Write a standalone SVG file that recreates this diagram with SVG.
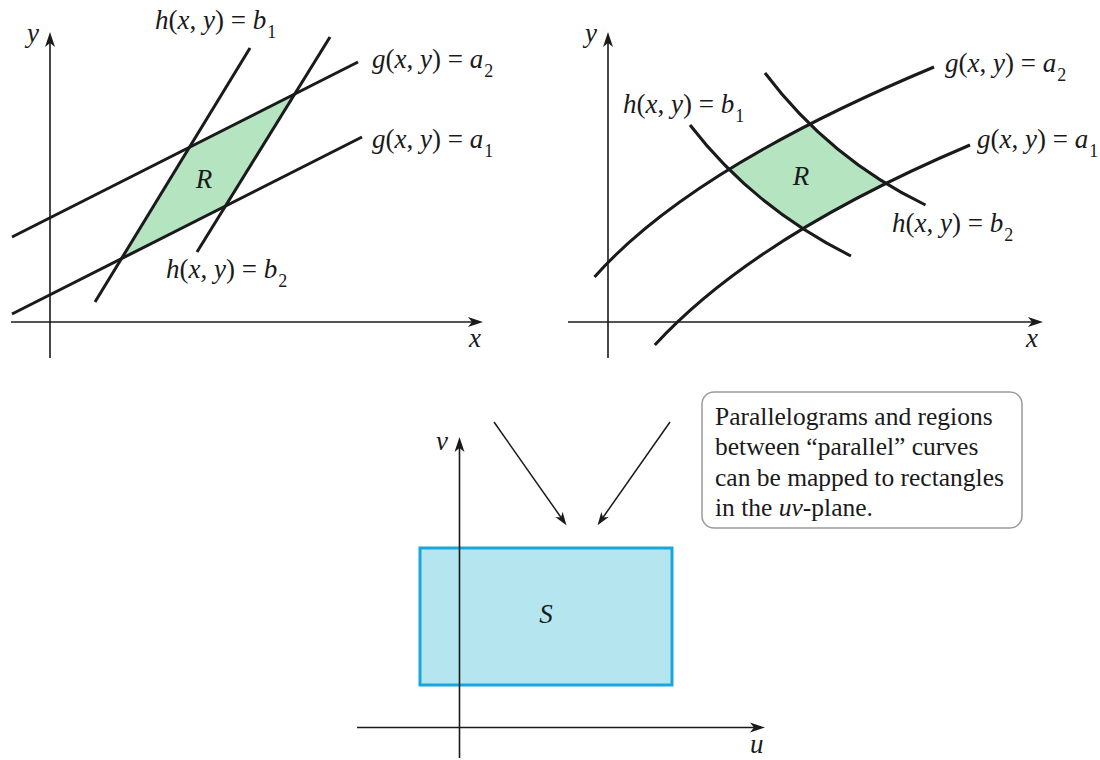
<svg xmlns="http://www.w3.org/2000/svg" width="1100" height="760" viewBox="0 0 1100 760">
<style>
.bg{fill:#ffffff}
.axis{stroke:#1a1a1a;stroke-width:1.6;fill:none}
.curve{stroke:#1a1a1a;stroke-width:3;fill:none;stroke-linecap:butt}
.regR{fill:#b5e4c0;stroke:none}
.regS{fill:#b5e6f0;stroke:#19a6da;stroke-width:3}
.conn{stroke:#1a1a1a;stroke-width:1.5;fill:none}
.lbl{font-family:"Liberation Serif","DejaVu Serif",serif;font-size:27px;fill:#1a1a1a}
.sub{font-size:18px}
.it{font-style:italic}
.note{font-family:"Liberation Serif","DejaVu Serif",serif;font-size:25.5px;fill:#1a1a1a}
.box{fill:#ffffff;stroke:#9a9a9a;stroke-width:1.5}
</style>
<defs>
<marker id="ax" markerUnits="userSpaceOnUse" markerWidth="16" markerHeight="12" viewBox="0 -6 16 12" refX="11" refY="0" orient="auto"><path d="M0,-5 L15,0 L0,5 L4,0 z" fill="#1a1a1a"/></marker>
<marker id="ar" markerUnits="userSpaceOnUse" markerWidth="14" markerHeight="10" viewBox="0 -5 14 10" refX="10" refY="0" orient="auto"><path d="M0,-4.5 L13,0 L0,4.5 L3.5,0 z" fill="#1a1a1a"/></marker>
<clipPath id="gband"><path d="M594.5,277 Q690,169 934,67 L970,145 Q755,236 654.8,345 Z"/></clipPath>
</defs>
<rect class="bg" x="0" y="0" width="1100" height="760"/>

<g id="panel-linear">
<polygon class="regR" points="189.4,147.3 294.7,94 225.3,206.1 121.4,258.7"/>
<line class="axis" x1="50" y1="358" x2="50" y2="36" marker-end="url(#ax)"/>
<line class="axis" x1="11" y1="322" x2="479" y2="322" marker-end="url(#ax)"/>
<line class="curve" x1="12" y1="237" x2="358" y2="62"/>
<line class="curve" x1="12" y1="314" x2="362" y2="137"/>
<line class="curve" x1="95" y1="302" x2="250" y2="48"/>
<line class="curve" x1="197" y1="252" x2="330" y2="37"/>
<text class="lbl it" x="27" y="42">y</text>
<text class="lbl it" x="469" y="347">x</text>
<text class="lbl it" x="204" y="188" text-anchor="middle">R</text>
<text class="lbl" x="155" y="29"><tspan class="it">h</tspan>(<tspan class="it">x</tspan>, <tspan class="it">y</tspan>) = <tspan class="it">b</tspan><tspan class="sub" dx="1" dy="9">1</tspan></text>
<text class="lbl" x="372" y="68"><tspan class="it">g</tspan>(<tspan class="it">x</tspan>, <tspan class="it">y</tspan>) = <tspan class="it">a</tspan><tspan class="sub" dx="1" dy="9">2</tspan></text>
<text class="lbl" x="372" y="148"><tspan class="it">g</tspan>(<tspan class="it">x</tspan>, <tspan class="it">y</tspan>) = <tspan class="it">a</tspan><tspan class="sub" dx="1" dy="9">1</tspan></text>
<text class="lbl" x="166" y="278"><tspan class="it">h</tspan>(<tspan class="it">x</tspan>, <tspan class="it">y</tspan>) = <tspan class="it">b</tspan><tspan class="sub" dx="1" dy="9">2</tspan></text>
</g>

<g id="panel-curved">
<path class="regR" clip-path="url(#gband)" d="M690,125 Q753,207 851,256 L925.5,205 Q830,159 765,73 Z"/>
<line class="axis" x1="608" y1="358" x2="608" y2="36" marker-end="url(#ax)"/>
<line class="axis" x1="568" y1="322" x2="1039" y2="322" marker-end="url(#ax)"/>
<path class="curve" d="M594.5,277 Q690,169 934,67"/>
<path class="curve" d="M654.8,345 Q755,236 970,145"/>
<path class="curve" d="M690,125 Q753,207 851,256"/>
<path class="curve" d="M765,73 Q830,159 925.5,205"/>
<text class="lbl it" x="585" y="42">y</text>
<text class="lbl it" x="1026" y="347">x</text>
<text class="lbl it" x="801" y="185" text-anchor="middle">R</text>
<text class="lbl" x="945" y="72"><tspan class="it">g</tspan>(<tspan class="it">x</tspan>, <tspan class="it">y</tspan>) = <tspan class="it">a</tspan><tspan class="sub" dx="1" dy="9">2</tspan></text>
<text class="lbl" x="623" y="113"><tspan class="it">h</tspan>(<tspan class="it">x</tspan>, <tspan class="it">y</tspan>) = <tspan class="it">b</tspan><tspan class="sub" dx="1" dy="9">1</tspan></text>
<text class="lbl" x="977" y="148"><tspan class="it">g</tspan>(<tspan class="it">x</tspan>, <tspan class="it">y</tspan>) = <tspan class="it">a</tspan><tspan class="sub" dx="1" dy="9">1</tspan></text>
<text class="lbl" x="892" y="232"><tspan class="it">h</tspan>(<tspan class="it">x</tspan>, <tspan class="it">y</tspan>) = <tspan class="it">b</tspan><tspan class="sub" dx="1" dy="9">2</tspan></text>
</g>

<g id="panel-uv">
<rect class="regS" x="420" y="548" width="252" height="137"/>
<line class="axis" x1="459.5" y1="758" x2="459.5" y2="441" marker-end="url(#ax)"/>
<line class="axis" x1="357" y1="727.5" x2="761" y2="727.5" marker-end="url(#ax)"/>
<text class="lbl it" x="436" y="450">v</text>
<text class="lbl it" x="750" y="753">u</text>
<text class="lbl it" x="546" y="623" text-anchor="middle">S</text>
</g>

<g id="note">
<rect class="box" x="702" y="392" width="320" height="136" rx="12" ry="12"/>
<text class="note" x="715" y="424.5">Parallelograms and regions</text>
<text class="note" x="715" y="455">between “parallel” curves</text>
<text class="note" x="715" y="485.5">can be mapped to rectangles</text>
<text class="note" x="715" y="516">in the <tspan class="it">uv</tspan>-plane.</text>
</g>

<g id="connectors">
<line class="conn" x1="494" y1="422" x2="564.7" y2="522.7" marker-end="url(#ar)"/>
<line class="conn" x1="670" y1="422" x2="599.3" y2="522.7" marker-end="url(#ar)"/>
</g>
</svg>
